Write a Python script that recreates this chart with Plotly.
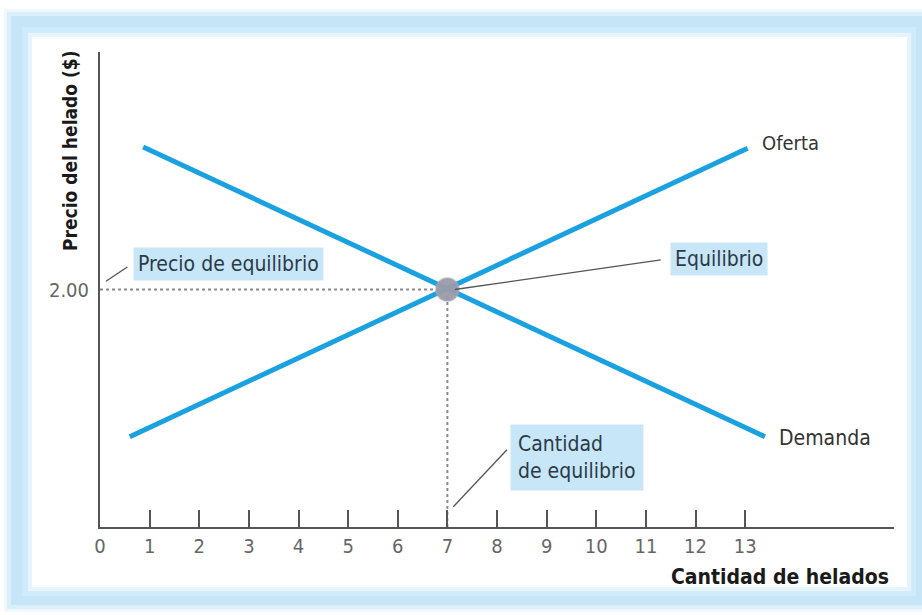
import plotly.graph_objects as go

# Quantity axis ticks and equilibrium
quantity_ticks = list(range(0, 14))
price_tick_vals = [2.0]
price_tick_text = ["2.00"]
eq_quantity = 7
eq_price = 2.0

# Supply and demand end points (quantity, price)
supply_q = [0.6, 13.05]
supply_p = [0.76, 3.19]
demand_q = [0.87, 13.4]
demand_p = [3.20, 0.76]

LINE_BLUE = "#1aa2e0"
NARROW = "DejaVu Sans Condensed, Liberation Sans Narrow, Arial Narrow, sans-serif"

# plot area geometry (pixels)
W, H = 922, 615
ML, MR, MT, MB = 100, 28, 52, 88
PW, PH = W - ML - MR, H - MT - MB


def px(x):
    return (x - ML) / PW


def py(y):
    return (H - MB - y) / PH


fig = go.Figure()

# guide lines to the equilibrium point
fig.add_trace(go.Scatter(x=[0, eq_quantity], y=[eq_price, eq_price], mode="lines",
                         line=dict(color="#8a8a8a", width=2, dash="dot"),
                         hoverinfo="skip", showlegend=False))
fig.add_trace(go.Scatter(x=[eq_quantity, eq_quantity], y=[0, eq_price], mode="lines",
                         line=dict(color="#8a8a8a", width=2, dash="dot"),
                         hoverinfo="skip", showlegend=False))

# demand and supply curves
fig.add_trace(go.Scatter(x=demand_q, y=demand_p, mode="lines",
                         line=dict(color=LINE_BLUE, width=5), name="Demanda",
                         showlegend=False))
fig.add_trace(go.Scatter(x=supply_q, y=supply_p, mode="lines",
                         line=dict(color=LINE_BLUE, width=5), name="Oferta",
                         showlegend=False))

# equilibrium marker
fig.add_trace(go.Scatter(x=[eq_quantity], y=[eq_price], mode="markers",
                         marker=dict(size=23, color="rgba(155,155,168,0.95)",
                                     line=dict(width=2, color="rgba(170,170,185,0.5)")),
                         showlegend=False, hoverinfo="skip"))

shapes = []
# light-blue frame with soft edges, drawn as nested rectangles
frame_layers = [
    ((4, 9, 940, 612), "#eef8fd"),
    ((7, 12, 940, 609), "#d9f0fb"),
    ((11, 16, 940, 605), "#c6e6f8"),
    ((22, 27, 916, 596), "#d0ebf9"),
    ((28, 33, 911, 591), "#e6f5fc"),
    ((32, 37, 907, 587), "#ffffff"),
]
for (x0, y0, x1, y1), col in frame_layers:
    shapes.append(dict(type="rect", xref="paper", yref="paper",
                       x0=px(x0), x1=px(x1), y0=py(y1), y1=py(y0),
                       fillcolor=col, line=dict(width=0), layer="below"))

# callout leader lines
leaders = [
    ((0.12, 2.07), (0.55, 2.19)),
    ((eq_quantity + 0.15, eq_price), (11.3, 2.25)),
    ((eq_quantity + 0.12, 0.17), (8.2, 0.65)),
]
for (x0, y0), (x1, y1) in leaders:
    shapes.append(dict(type="line", xref="x", yref="y", x0=x0, y0=y0, x1=x1, y1=y1,
                       line=dict(color="#555555", width=1.3)))

box_font = dict(family=NARROW, size=21, color="#2c3a48")
label_font = dict(family=NARROW, size=21, color="#333333")
centered = dict(xanchor="center", yanchor="middle", showarrow=False)
annotations = [
    dict(x=px(228), y=py(264), xref="paper", yref="paper", text="Precio de equilibrio",
         font=box_font, bgcolor="#c7e6f7", borderpad=4, **centered),
    dict(x=px(719), y=py(259), xref="paper", yref="paper", text="Equilibrio",
         font=box_font, bgcolor="#c7e6f7", borderpad=4, **centered),
    dict(x=px(577), y=py(457), xref="paper", yref="paper",
         text="Cantidad<br>de equilibrio", align="left",
         font=box_font, bgcolor="#c7e6f7", borderpad=7, **centered),
    dict(x=13.3, y=3.23, xref="x", yref="y", text="Oferta", xanchor="left",
         yanchor="middle", showarrow=False, font=dict(label_font, size=20)),
    dict(x=13.65, y=0.75, xref="x", yref="y", text="Demanda", xanchor="left",
         yanchor="middle", showarrow=False, font=label_font),
    dict(x=px(70), y=py(151), xref="paper", yref="paper",
         text="<b>Precio del helado ($)</b>", textangle=-90,
         font=dict(family=NARROW, size=19, color="#1a1a1a"), **centered),
    dict(x=px(891), y=py(577), xref="paper", yref="paper", xanchor="right",
         yanchor="middle", text="<b>Cantidad de helados</b>", showarrow=False,
         font=dict(family=NARROW, size=21, color="#1a1a1a")),
]

fig.update_layout(
    width=W, height=H,
    margin=dict(l=ML, r=MR, t=MT, b=MB),
    paper_bgcolor="white", plot_bgcolor="rgba(0,0,0,0)",
    shapes=shapes, annotations=annotations,
    xaxis=dict(range=[0, 16], tickvals=quantity_ticks,
               ticktext=[str(v) for v in quantity_ticks],
               showgrid=False, zeroline=False, showline=True,
               linecolor="#555555", linewidth=2,
               ticks="inside", ticklen=17, tickwidth=1.5, tickcolor="#555555",
               tickfont=dict(family=NARROW, size=20, color="#666666")),
    yaxis=dict(range=[0, 4], tickvals=price_tick_vals, ticktext=price_tick_text,
               showgrid=False, zeroline=False, showline=True,
               linecolor="#555555", linewidth=2, ticks="", ticklabelstandoff=5,
               tickfont=dict(family=NARROW, size=20, color="#666666")),
)

fig.write_html("out.html")
